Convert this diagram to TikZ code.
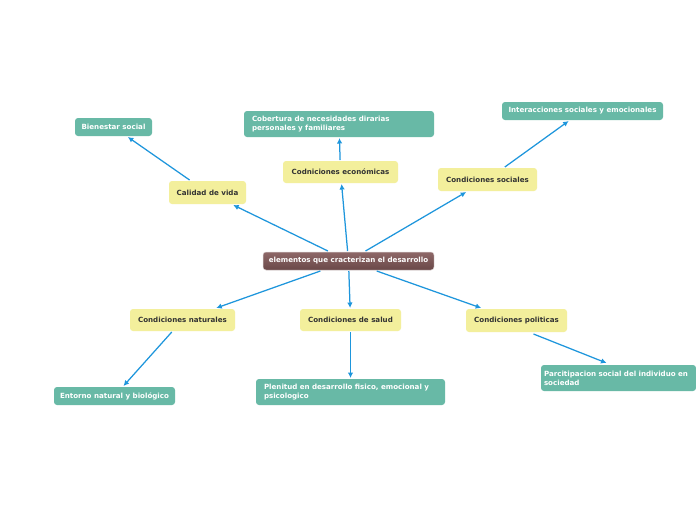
\documentclass[tikz,border=0pt]{standalone}
\usepackage{fontspec}
\setmainfont{DejaVu Sans}
\usetikzlibrary{arrows.meta,calc}
\definecolor{ybox}{HTML}{F3EF9C}
\definecolor{tbox}{HTML}{68B9A6}
\definecolor{arr}{HTML}{1E96DC}
\definecolor{btop}{HTML}{8E6868}
\definecolor{bbot}{HTML}{6A4848}
\definecolor{ytext}{HTML}{333333}
\tikzset{
  base/.style={rounded corners=3pt, inner sep=0pt, outer sep=1pt,
    font=\fontsize{7.1}{8.8}\selectfont\bfseries},
  ynode/.style={base, fill=ybox, text=ytext},
  tnode/.style={base, fill=tbox, text=white},
  cnode/.style={base, top color=btop, bottom color=bbot, draw=white!75!bbot, line width=0.5pt, text=white},
  conn/.style={draw=arr, line width=1.25pt, -{Latex[length=5.5pt,width=5.5pt]}},
}
\begin{document}
\begin{tikzpicture}[x=1pt,y=-1pt]
\useasboundingbox (0,0) rectangle (696,520);
\fill[white] (0,0) rectangle (696,520);
% central
\node[cnode, minimum width=171pt, minimum height=18pt] (c) at (348.5,261) {elementos que cracterizan el desarrollo};
% yellow
\node[ynode, minimum width=77pt, minimum height=23pt] (cal) at (207.5,192.5) {Calidad de vida};
\node[ynode, minimum width=115pt, minimum height=22pt] (eco) at (340.5,172) {Codniciones económicas};
\node[ynode, minimum width=99pt, minimum height=23pt] (soc) at (487.5,179.5) {Condiciones sociales};
\node[ynode, minimum width=105pt, minimum height=22pt] (nat) at (182.5,320) {Condiciones naturales};
\node[ynode, minimum width=101pt, minimum height=22pt] (sal) at (350.5,320) {Condiciones de salud};
\node[ynode, minimum width=101pt, minimum height=23pt] (pol) at (516.5,320.5) {Condiciones politicas};
% teal
\node[tnode, minimum width=77pt, minimum height=18pt] (bie) at (113.5,127) {Bienestar social};
\node[tnode, minimum width=190pt, minimum height=26pt, text width=174pt, align=left] (cob) at (339,124) {Cobertura de necesidades dirarias\\personales y familiares};
\node[tnode, minimum width=161pt, minimum height=18pt] (int) at (582.5,111) {Interacciones sociales y emocionales};
\node[tnode, minimum width=121pt, minimum height=18pt] (ent) at (114.5,396) {Entorno natural y biológico};
\node[tnode, minimum width=189pt, minimum height=26pt, text width=173pt, align=left] (ple) at (350.5,392) {Plenitud en desarrollo fisico, emocional y\\psicologico};
\node[tnode, minimum width=155pt, minimum height=26pt, text width=149pt, align=left] (par) at (618.5,378) {Parcitipacion social del individuo en\\sociedad};
% connectors
\draw[conn] (c) -- (cal);
\draw[conn] (c) -- (eco);
\draw[conn] (c) -- (soc);
\draw[conn] (c) -- (nat);
\draw[conn] (c) -- (sal);
\draw[conn] (c) -- (pol);
\draw[conn] (cal) -- (bie);
\draw[conn] (eco) -- (cob);
\draw[conn] (soc) -- (int);
\draw[conn] (nat) -- (ent);
\draw[conn] (sal) -- (ple);
\draw[conn] ($(pol.south)+(17,1)$) -- ($(par.north)+(-12,-1)$);
\end{tikzpicture}
\end{document}
